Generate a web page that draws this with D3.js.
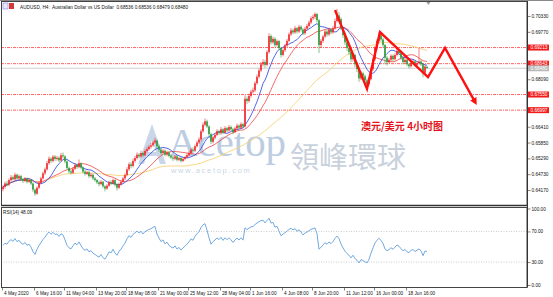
<!DOCTYPE html>
<html>
<head>
<meta charset="utf-8">
<script src="https://cdn.jsdelivr.net/npm/d3@7"></script>
<style>
	html, body { margin: 0; padding: 0; background: #fff; }
	svg { display: block; font-family: "Liberation Sans", Arial, sans-serif; }
</style>
</head>
<body>
<div id="chart"></div>
<script>
// AUDUSD H4, 4 May 2020 -> 22 Jun 2020
const firstOpen = 0.6420;
const closes = [
	0.6428,0.6440,0.6436,0.6452,0.6462,0.6455,0.6471,0.6458,0.6466,0.6455,
	0.6449,0.6458,0.6446,0.6452,0.6440,0.6418,0.6404,0.6425,0.6442,0.6458,
	0.6476,0.6490,0.6512,0.6528,0.6520,0.6535,0.6527,0.6531,0.6522,0.6540,
	0.6536,0.6518,0.6495,0.6483,0.6478,0.6492,0.6505,0.6498,0.6512,0.6496,
	0.6482,0.6474,0.6480,0.6466,0.6471,0.6458,0.6452,0.6444,0.6438,0.6446,
	0.6430,0.6422,0.6432,0.6445,0.6440,0.6452,0.6436,0.6425,0.6438,0.6446,
	0.6458,0.6470,0.6490,0.6508,0.6502,0.6520,0.6530,0.6542,0.6536,0.6548,
	0.6540,0.6555,0.6562,0.6570,0.6575,0.6585,0.6592,0.6572,0.6560,0.6548,
	0.6556,0.6542,0.6550,0.6538,0.6532,0.6528,0.6536,0.6524,0.6530,0.6520,
	0.6527,0.6533,0.6540,0.6548,0.6560,0.6556,0.6572,0.6585,0.6596,0.6625,
	0.6648,0.6660,0.6642,0.6615,0.6588,0.6602,0.6612,0.6625,0.6618,0.6632,
	0.6620,0.6636,0.6628,0.6640,0.6632,0.6622,0.6635,0.6645,0.6638,0.6650,
	0.6642,0.6740,0.6732,0.6750,0.6765,0.6770,0.6795,0.6818,0.6840,0.6862,
	0.6870,0.6860,0.6905,0.6962,0.6940,0.6952,0.6930,0.6944,0.6920,0.6895,
	0.6912,0.6928,0.6945,0.6968,0.6982,0.6975,0.6990,0.6978,0.6995,0.6985,
	0.6972,0.6988,0.6998,0.7010,0.7025,0.7030,0.7040,0.7018,0.6930,0.6945,
	0.6960,0.6978,0.6968,0.6985,0.6975,0.6990,0.7015,0.7035,0.7022,0.6990,
	0.6965,0.6940,0.6920,0.6905,0.6880,0.6895,0.6862,0.6845,0.6812,0.6830,
	0.6820,0.6805,0.6792,0.6810,0.6845,0.6880,0.6920,0.6945,0.6965,0.6950,
	0.6930,0.6885,0.6870,0.6878,0.6892,0.6880,0.6895,0.6910,0.6902,0.6885,
	0.6870,0.6878,0.6862,0.6855,0.6868,0.6872,0.6860,0.6866,0.6872,0.6862,
	0.6832,0.6854,0.6848
];
const highs = [
	0.6434,0.6446,0.6449,0.6458,0.6470,0.6468,0.6478,0.6475,0.6472,0.6470,
	0.6460,0.6463,0.6461,0.6458,0.6456,0.6444,0.6422,0.6430,0.6448,0.6464,
	0.6482,0.6497,0.6520,0.6536,0.6533,0.6541,0.6540,0.6538,0.6536,0.6548,
	0.6550,0.6540,0.6522,0.6500,0.6490,0.6498,0.6512,0.6510,0.6525,0.6515,
	0.6500,0.6488,0.6486,0.6484,0.6477,0.6475,0.6463,0.6456,0.6450,0.6452,
	0.6450,0.6434,0.6438,0.6450,0.6452,0.6458,0.6456,0.6440,0.6443,0.6452,
	0.6464,0.6476,0.6498,0.6515,0.6516,0.6528,0.6538,0.6550,0.6548,0.6556,
	0.6553,0.6561,0.6570,0.6577,0.6584,0.6592,0.6602,0.6596,0.6578,0.6565,
	0.6562,0.6560,0.6556,0.6554,0.6543,0.6538,0.6541,0.6540,0.6535,0.6534,
	0.6532,0.6538,0.6546,0.6554,0.6566,0.6568,0.6578,0.6592,0.6604,0.6632,
	0.6656,0.6670,0.6666,0.6646,0.6620,0.6608,0.6618,0.6632,0.6630,0.6640,
	0.6636,0.6643,0.6641,0.6647,0.6645,0.6637,0.6641,0.6652,0.6650,0.6657,
	0.6655,0.6752,0.6748,0.6758,0.6772,0.6780,0.6802,0.6826,0.6848,0.6870,
	0.6880,0.6878,0.6912,0.6972,0.6968,0.6960,0.6958,0.6950,0.6948,0.6924,
	0.6918,0.6935,0.6952,0.6975,0.6990,0.6988,0.6998,0.6994,0.7002,0.7000,
	0.6990,0.6995,0.7005,0.7017,0.7032,0.7038,0.7046,0.7044,0.7022,0.6952,
	0.6966,0.6985,0.6984,0.6992,0.6990,0.6998,0.7024,0.7058,0.7046,0.7028,
	0.6996,0.6972,0.6948,0.6928,0.6912,0.6902,0.6900,0.6870,0.6850,0.6838,
	0.6836,0.6826,0.6812,0.6818,0.6852,0.6888,0.6928,0.6952,0.6976,0.6972,
	0.6956,0.6934,0.6892,0.6885,0.6898,0.6897,0.6901,0.6918,0.6915,0.6906,
	0.6890,0.6884,0.6882,0.6867,0.6874,0.6879,0.6876,0.6871,0.6920,0.6877,
	0.6866,0.6860,0.68536
];
const lows = [
	0.6412,0.6422,0.6430,0.6431,0.6447,0.6450,0.6451,0.6452,0.6453,0.6450,
	0.6442,0.6445,0.6440,0.6442,0.6434,0.6410,0.6396,0.6400,0.6420,0.6438,
	0.6454,0.6470,0.6486,0.6506,0.6512,0.6515,0.6520,0.6521,0.6516,0.6518,
	0.6528,0.6512,0.6490,0.6476,0.6472,0.6474,0.6488,0.6492,0.6494,0.6490,
	0.6476,0.6468,0.6470,0.6460,0.6461,0.6452,0.6446,0.6438,0.6430,0.6434,
	0.6424,0.6412,0.6418,0.6428,0.6434,0.6436,0.6430,0.6415,0.6420,0.6432,
	0.6441,0.6452,0.6465,0.6485,0.6494,0.6497,0.6514,0.6525,0.6529,0.6531,
	0.6533,0.6536,0.6549,0.6556,0.6564,0.6570,0.6580,0.6566,0.6552,0.6542,
	0.6543,0.6536,0.6537,0.6532,0.6526,0.6520,0.6523,0.6518,0.6519,0.6514,
	0.6516,0.6522,0.6529,0.6535,0.6543,0.6550,0.6551,0.6567,0.6580,0.6590,
	0.6620,0.6642,0.6636,0.6608,0.6580,0.6582,0.6596,0.6607,0.6612,0.6613,
	0.6614,0.6616,0.6622,0.6623,0.6626,0.6615,0.6618,0.6630,0.6632,0.6633,
	0.6636,0.6638,0.6722,0.6726,0.6744,0.6758,0.6764,0.6790,0.6812,0.6834,
	0.6855,0.6850,0.6855,0.6900,0.6932,0.6934,0.6922,0.6925,0.6912,0.6886,
	0.6890,0.6906,0.6922,0.6940,0.6962,0.6968,0.6970,0.6971,0.6973,0.6978,
	0.6965,0.6966,0.6982,0.6992,0.7004,0.7018,0.7022,0.7010,0.6902,0.6920,
	0.6938,0.6954,0.6960,0.6962,0.6968,0.6970,0.6985,0.7010,0.7012,0.6982,
	0.6956,0.6930,0.6910,0.6895,0.6870,0.6872,0.6852,0.6834,0.6800,0.6806,
	0.6810,0.6795,0.6778,0.6786,0.6805,0.6838,0.6874,0.6914,0.6938,0.6942,
	0.6922,0.6862,0.6858,0.6864,0.6872,0.6873,0.6875,0.6890,0.6895,0.6878,
	0.6862,0.6864,0.6855,0.6848,0.6850,0.6862,0.6854,0.6855,0.6861,0.6856,
	0.6816,0.6828,0.68479
];

const timeLabels = ["4 May 2020", "6 May 16:00", "11 May 04:00", "13 May 20:00", "18 May 08:00",
	"21 May 00:00", "25 May 12:00", "28 May 04:00", "1 Jun 16:00", "4 Jun 08:00",
	"8 Jun 20:00", "11 Jun 12:00", "16 Jun 00:00", "18 Jun 16:00"];
const priceTicks = [0.70330, 0.69770, 0.68090, 0.66410, 0.65850, 0.65290, 0.64730, 0.64170];
const levels = [0.69213, 0.68643, 0.67550, 0.66997];
const lastPrice = 0.68480;
const rsiTicks = [100, 70, 30, 0];
const rsiLevels = [70, 30];
const maPeriods = [60, 20, 10];
const maColors = ["#f7d37a", "#f25a5a", "#3f55e0"];

// hand drawn forecast arrows (bar index, price)
const arrowBars = [166, 182, 188.5, 212.5, 221, 236];
const arrowPrices = [0.7054, 0.6775, 0.6976, 0.6817, 0.6920, 0.6729];

const W = 553, H = 297;
const plotL = 1, plotR = 527;
const mainTop = 1, mainBot = 205;
const rsiTop = 207, rsiBot = 287;

const svg = d3.select("#chart").append("svg").attr("width", W).attr("height", H);

// trading calendar: 4h bars, weekdays only
const dates = [];
{
	let t = Date.UTC(2020, 4, 4, 0);
	while (dates.length < closes.length + 60) {
		const d = new Date(t);
		const wd = d.getUTCDay();
		if (wd !== 0 && wd !== 6) dates.push(d);
		t += 4 * 3600 * 1000;
	}
}
const fmt = d3.utcFormat("%-d %b %H:%M");

const xScale = d3.scaleLinear().domain([0, 260]).range([3, 523]);
const yScale = d3.scaleLinear().domain([0.63639, 0.70826]).range([mainBot, mainTop + 1]);
const rScale = d3.scaleLinear().domain([0, 100]).range([285, 208.5]);

const opens = closes.map((c, i) => i === 0 ? firstOpen : closes[i - 1]);

// indicators
const sma = n => closes.map((c, i) => d3.mean(closes.slice(Math.max(0, i - n + 1), i + 1)));
function rsi(n) {
	let ag = 0.0008, al = 0.0008; // neutral seed, no earlier history on the chart
	return closes.map((c, i) => {
		const ch = c - opens[i];
		ag = (ag * (n - 1) + Math.max(ch, 0)) / n;
		al = (al * (n - 1) + Math.max(-ch, 0)) / n;
		return 100 - 100 / (1 + ag / al);
	});
}

// clip
const defs = svg.append("defs");
defs.append("clipPath").attr("id", "clipMain").append("rect")
	.attr("x", plotL).attr("y", mainTop).attr("width", plotR - plotL).attr("height", mainBot - mainTop);
defs.append("clipPath").attr("id", "clipRsi").append("rect")
	.attr("x", plotL).attr("y", rsiTop).attr("width", plotR - plotL).attr("height", rsiBot - rsiTop);
defs.append("marker").attr("id", "ah").attr("viewBox", "0 0 10 10")
	.attr("refX", 5).attr("refY", 5).attr("markerWidth", 3).attr("markerHeight", 3)
	.attr("orient", "auto")
	.append("path").attr("d", "M0,0L10,5L0,10z").attr("fill", "#ff1010");

const main = svg.append("g").attr("clip-path", "url(#clipMain)");

// watermark
const wm = main.append("g");
wm.append("path")
	.attr("d", "M152,124 L138,164 L144,164 L152,140 L160,164 L166,164 Z M146,156 L158,156 L156,152 L148,152 Z")
	.attr("fill", "#c9d7e8");
wm.append("text").attr("x", 168).attr("y", 156)
	.attr("font-family", "'Liberation Serif', serif").attr("font-size", 41)
	.attr("textLength", 118).attr("lengthAdjust", "spacingAndGlyphs")
	.attr("fill", "#bccde2").text("Acetop");
wm.append("text").attr("x", 290).attr("y", 168)
	.attr("font-family", "'Noto Sans CJK TC', sans-serif").attr("font-size", 29)
	.attr("fill", "#c9d2dc").text("領峰環球");
wm.append("text").attr("x", 171).attr("y", 173)
	.attr("font-size", 7.5).attr("letter-spacing", 1.7)
	.attr("fill", "#cad6e3").text("www.acetop.com");

// level lines
main.selectAll(".lvl").data(levels).enter().append("line")
	.attr("x1", plotL).attr("x2", plotR)
	.attr("y1", d => yScale(d)).attr("y2", d => yScale(d))
	.attr("stroke", "#ff3c3c").attr("stroke-width", 0.8)
	.attr("stroke-dasharray", "3,1,1,1");
main.append("line")
	.attr("x1", plotL).attr("x2", plotR)
	.attr("y1", yScale(lastPrice)).attr("y2", yScale(lastPrice))
	.attr("stroke", "#c4c4c4").attr("stroke-width", 0.8);

// moving averages (slowest first)
const line = d3.line().x((d, i) => xScale(i)).y(d => yScale(d));
maPeriods.forEach((n, k) => {
	main.append("path").datum(sma(n))
		.attr("d", line).attr("fill", "none")
		.attr("stroke", maColors[k]).attr("stroke-width", 0.9);
});

// candles
const bars = main.selectAll(".bar").data(closes).enter().append("g");
bars.append("line")
	.attr("x1", (d, i) => xScale(i)).attr("x2", (d, i) => xScale(i))
	.attr("y1", (d, i) => yScale(highs[i])).attr("y2", (d, i) => yScale(lows[i]))
	.attr("stroke", (d, i) => d >= opens[i] ? "#f0282d" : "#2f9a3a")
	.attr("stroke-width", 0.6);
bars.append("rect")
	.attr("x", (d, i) => xScale(i) - 0.8).attr("width", 1.6)
	.attr("y", (d, i) => yScale(Math.max(d, opens[i])))
	.attr("height", (d, i) => Math.max(0.6, Math.abs(yScale(d) - yScale(opens[i]))))
	.attr("fill", (d, i) => d >= opens[i] ? "#f0282d" : "#2f9a3a");

// forecast arrows
main.append("path")
	.datum(arrowBars.map((b, i) => [b, arrowPrices[i]]))
	.attr("d", d3.line().x(d => xScale(d[0])).y(d => yScale(d[1])))
	.attr("fill", "none").attr("stroke", "#ff1010").attr("stroke-width", 2.4)
	.attr("stroke-linejoin", "miter").attr("marker-end", "url(#ah)");

// annotation
main.append("text").attr("x", 361).attr("y", 129.5)
	.attr("font-family", "'Noto Sans CJK SC', sans-serif").attr("font-weight", "bold")
	.attr("font-size", 10).attr("fill", "#e4141b").text("澳元/美元 4小时图");

// chart shift marker
svg.append("path")
	.attr("d", `M${xScale(212.7) - 2},${mainTop + 1}h4l-2,3z`).attr("fill", "#9a9a9a");

// RSI
const rsiG = svg.append("g").attr("clip-path", "url(#clipRsi)");
rsiG.selectAll(".rl").data(rsiLevels).enter().append("line")
	.attr("x1", plotL).attr("x2", plotR)
	.attr("y1", d => rScale(d)).attr("y2", d => rScale(d))
	.attr("stroke", "#b8b8b8").attr("stroke-width", 0.7).attr("stroke-dasharray", "1,1.5");
rsiG.append("path").datum(rsi(14))
	.attr("d", d3.line().x((d, i) => xScale(i)).y(d => rScale(d)))
	.attr("fill", "none").attr("stroke", "#62a0dc").attr("stroke-width", 0.9);

// frames
svg.append("line").attr("x1", 0).attr("x2", W).attr("y1", 0.5).attr("y2", 0.5).attr("stroke", "#8a8a8a");
svg.append("rect").attr("x", plotL + 0.5).attr("y", mainTop + 0.5)
	.attr("width", plotR - plotL - 0.5).attr("height", mainBot - mainTop)
	.attr("fill", "none").attr("stroke", "#444").attr("stroke-width", 1);
svg.append("line").attr("x1", plotL).attr("x2", plotR).attr("y1", mainBot + 0.5).attr("y2", mainBot + 0.5)
	.attr("stroke", "#333").attr("stroke-width", 1.6);
svg.append("rect").attr("x", plotL + 0.5).attr("y", rsiTop + 0.5)
	.attr("width", plotR - plotL - 0.5).attr("height", rsiBot - rsiTop)
	.attr("fill", "none").attr("stroke", "#444").attr("stroke-width", 1);

// right price axis
const fs = 4.7;
const yAxis = d3.axisRight(yScale).tickValues(priceTicks).tickSize(3).tickPadding(1)
	.tickFormat(d3.format(".5f"));
const yAxisG = svg.append("g").attr("transform", `translate(${plotR + 0.5},0)`).call(yAxis);
yAxisG.select(".domain").remove();
yAxisG.selectAll("text").attr("font-size", fs).attr("fill", "#111").attr("font-family", null);
yAxisG.selectAll("line").attr("stroke", "#333").attr("stroke-width", 0.6);

const boxes = [...levels.map(v => ({v, fill: "#f21b1b"})), {v: lastPrice, fill: "#b9b9b9"}];
const boxG = svg.selectAll(".box").data(boxes).enter().append("g")
	.attr("transform", d => `translate(${plotR + 1},${yScale(d.v)})`);
boxG.append("rect").attr("x", 0).attr("y", -3).attr("width", 21).attr("height", 6).attr("fill", d => d.fill);
boxG.append("text").attr("x", 2.5).attr("dy", "0.35em").attr("font-size", fs)
	.attr("fill", "#fff").text(d => d3.format(".5f")(d.v));

// RSI axis
const rAxis = d3.axisRight(rScale).tickValues(rsiTicks).tickSize(3).tickPadding(1)
	.tickFormat(d3.format(".2f"));
const rAxisG = svg.append("g").attr("transform", `translate(${plotR + 0.5},0)`).call(rAxis);
rAxisG.select(".domain").remove();
rAxisG.selectAll("text").attr("font-size", fs).attr("fill", "#111").attr("font-family", null);
rAxisG.selectAll("line").attr("stroke", "#333").attr("stroke-width", 0.6);

svg.append("line").attr("x1", plotR + 0.5).attr("x2", plotR + 0.5).attr("y1", mainTop).attr("y2", rsiBot + 0.5)
	.attr("stroke", "#333").attr("stroke-width", 1);

// time axis
const tickIdx = timeLabels.map((s, k) => k === 0 ? 0 : dates.findIndex(d => fmt(d) === s));
const xt = svg.append("g").selectAll("g").data(timeLabels).enter().append("g")
	.attr("transform", (d, k) => `translate(${xScale(tickIdx[k]) - 0.5},${rsiBot + 0.5})`);
xt.append("line").attr("y1", 0).attr("y2", 3).attr("stroke", "#333").attr("stroke-width", 0.6);
xt.append("text").attr("x", 1.5).attr("y", 7.3).attr("font-size", fs).attr("fill", "#111").text(d => d);

// header texts
svg.append("rect").attr("x", 3).attr("y", 3).attr("width", 5).attr("height", 6).attr("fill", "#e8e8ff").attr("stroke", "#6b6bd6").attr("stroke-width", 0.5);
svg.append("rect").attr("x", 9).attr("y", 3).attr("width", 5).attr("height", 6).attr("fill", "#d23a3a");
svg.append("text").attr("x", 20).attr("y", 8.5).attr("font-size", fs).attr("fill", "#111")
	.attr("xml:space", "preserve")
	.text("AUDUSD, H4:  Australian Dollar vs US Dollar  0.68536 0.68536 0.68479 0.68480");
svg.append("text").attr("x", 3).attr("y", 213.5).attr("font-size", fs).attr("fill", "#111")
	.text("RSI(14) 48.09");
</script>
</body>
</html>
